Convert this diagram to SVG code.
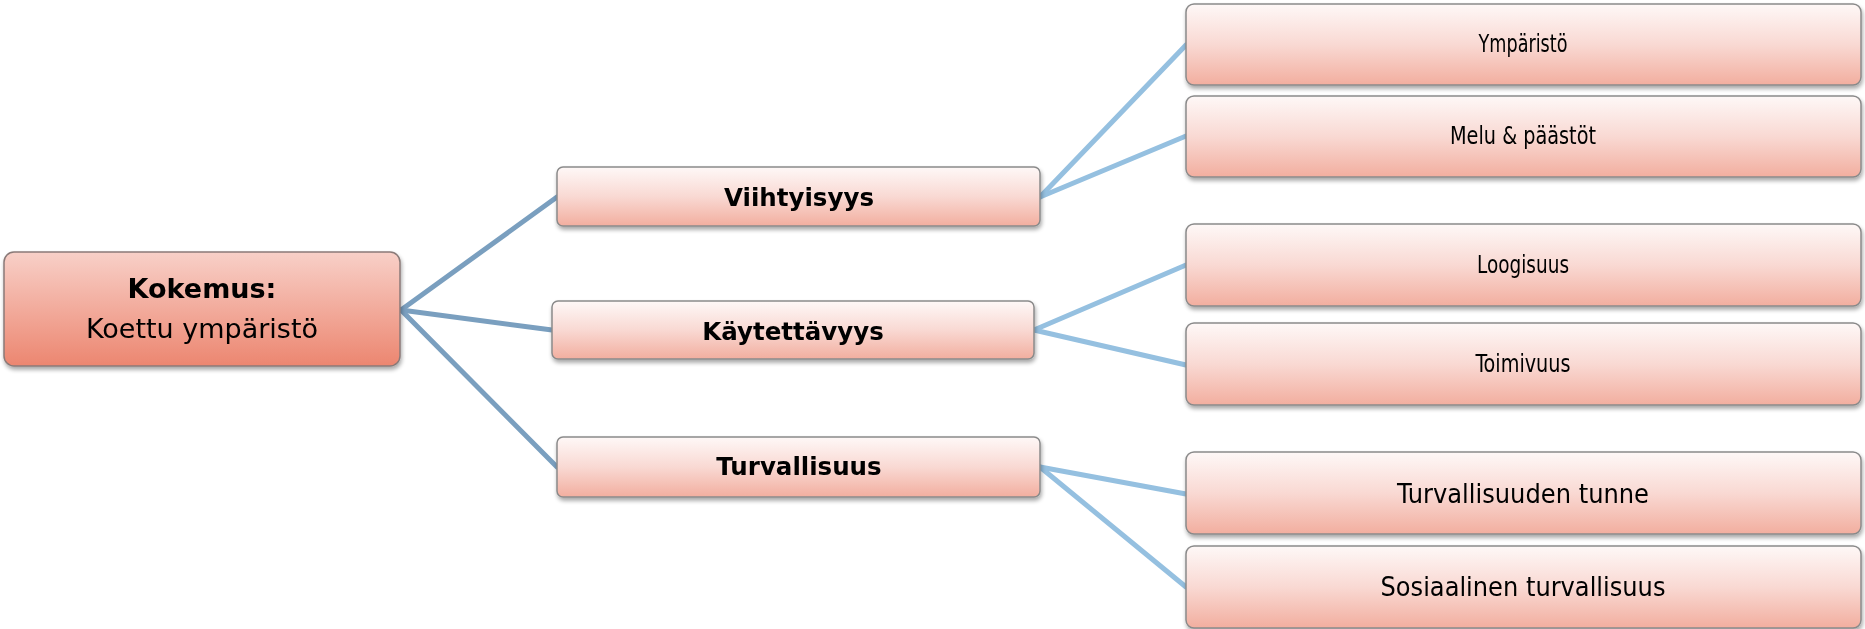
<svg xmlns="http://www.w3.org/2000/svg" width="1865" height="629" viewBox="0 0 1865 629">
<defs>
<linearGradient id="gRoot" x1="0" y1="0" x2="0" y2="1">
<stop offset="0" stop-color="#f8d0c8"/>
<stop offset="1" stop-color="#ec8670"/>
</linearGradient>
<linearGradient id="gBox" x1="0" y1="0" x2="0" y2="1">
<stop offset="0" stop-color="#fef8f7"/>
<stop offset="0.5" stop-color="#f9d9d3"/>
<stop offset="1" stop-color="#f2ae9f"/>
</linearGradient>
<filter id="sh" x="-5%" y="-10%" width="110%" height="130%">
<feGaussianBlur in="SourceAlpha" stdDeviation="2"/>
<feOffset dx="1" dy="3" result="b"/>
<feComponentTransfer><feFuncA type="linear" slope="0.35"/></feComponentTransfer>
<feMerge><feMergeNode/><feMergeNode in="SourceGraphic"/></feMerge>
</filter>
</defs>
<style>
.root{fill:url(#gRoot);stroke:#8a7a78;stroke-width:1.5}
.box{fill:url(#gBox);stroke:#8a8a8a;stroke-width:1.5}
.c1{stroke:#7a9fbf;stroke-width:5;fill:none;stroke-linecap:round}
.c2{stroke:#95c0e0;stroke-width:5;fill:none;stroke-linecap:round}
.tb{font-family:"DejaVu Sans",Verdana,sans-serif;font-weight:bold;font-size:24.5px;fill:#000;text-anchor:middle}
.tr{font-family:"DejaVu Sans",Verdana,sans-serif;font-size:27px;fill:#000;text-anchor:middle}
.tl{font-family:"DejaVu Sans Condensed","DejaVu Sans",sans-serif;font-size:24px;fill:#000;text-anchor:middle}
.tl2{font-family:"DejaVu Sans Condensed","DejaVu Sans",sans-serif;font-size:26px;fill:#000;text-anchor:middle}
</style>
<g id="connectors">
<line class="c1" x1="401" y1="310" x2="557" y2="197"/>
<line class="c1" x1="401" y1="310" x2="552" y2="330"/>
<line class="c1" x1="401" y1="310" x2="557" y2="467"/>
<line class="c2" x1="1040" y1="197" x2="1186" y2="45"/>
<line class="c2" x1="1040" y1="197" x2="1186" y2="136"/>
<line class="c2" x1="1034" y1="330" x2="1186" y2="265"/>
<line class="c2" x1="1034" y1="330" x2="1186" y2="365"/>
<line class="c2" x1="1040" y1="467" x2="1186" y2="494"/>
<line class="c2" x1="1040" y1="467" x2="1186" y2="587"/>
</g>
<g id="n-root" filter="url(#sh)">
<rect class="root" x="4" y="252" width="396" height="114" rx="10"/>
<text class="tr" x="202" y="298" font-weight="bold">Kokemus:</text>
<text class="tr" x="202" y="338">Koettu ympäristö</text>
</g>
<g id="n-viihtyisyys" filter="url(#sh)">
<rect class="box" x="557" y="167" width="483" height="59" rx="6"/>
<text class="tb" x="799" y="206">Viihtyisyys</text>
</g>
<g id="n-kaytettavyys" filter="url(#sh)">
<rect class="box" x="552" y="301" width="482" height="58" rx="6"/>
<text class="tb" x="793" y="340">Käytettävyys</text>
</g>
<g id="n-turvallisuus" filter="url(#sh)">
<rect class="box" x="557" y="437" width="483" height="60" rx="6"/>
<text class="tb" x="799" y="475">Turvallisuus</text>
</g>
<g id="n-ymparisto" filter="url(#sh)">
<rect class="box" x="1186" y="4" width="675" height="81" rx="8"/>
<text class="tl" x="1523" y="52" textLength="89" lengthAdjust="spacingAndGlyphs">Ympäristö</text>
</g>
<g id="n-melu" filter="url(#sh)">
<rect class="box" x="1186" y="96" width="675" height="81" rx="8"/>
<text class="tl" x="1523" y="144" textLength="146" lengthAdjust="spacingAndGlyphs">Melu &amp; päästöt</text>
</g>
<g id="n-loogisuus" filter="url(#sh)">
<rect class="box" x="1186" y="224" width="675" height="82" rx="8"/>
<text class="tl" x="1523" y="273" textLength="92" lengthAdjust="spacingAndGlyphs">Loogisuus</text>
</g>
<g id="n-toimivuus" filter="url(#sh)">
<rect class="box" x="1186" y="323" width="675" height="82" rx="8"/>
<text class="tl" x="1523" y="372" textLength="95" lengthAdjust="spacingAndGlyphs">Toimivuus</text>
</g>
<g id="n-turvtunne" filter="url(#sh)">
<rect class="box" x="1186" y="452" width="675" height="82" rx="8"/>
<text class="tl2" x="1523" y="503" textLength="252" lengthAdjust="spacingAndGlyphs">Turvallisuuden tunne</text>
</g>
<g id="n-sosiaalinen" filter="url(#sh)">
<rect class="box" x="1186" y="546" width="675" height="82" rx="8"/>
<text class="tl2" x="1523" y="596" textLength="285" lengthAdjust="spacingAndGlyphs">Sosiaalinen turvallisuus</text>
</g>
</svg>
